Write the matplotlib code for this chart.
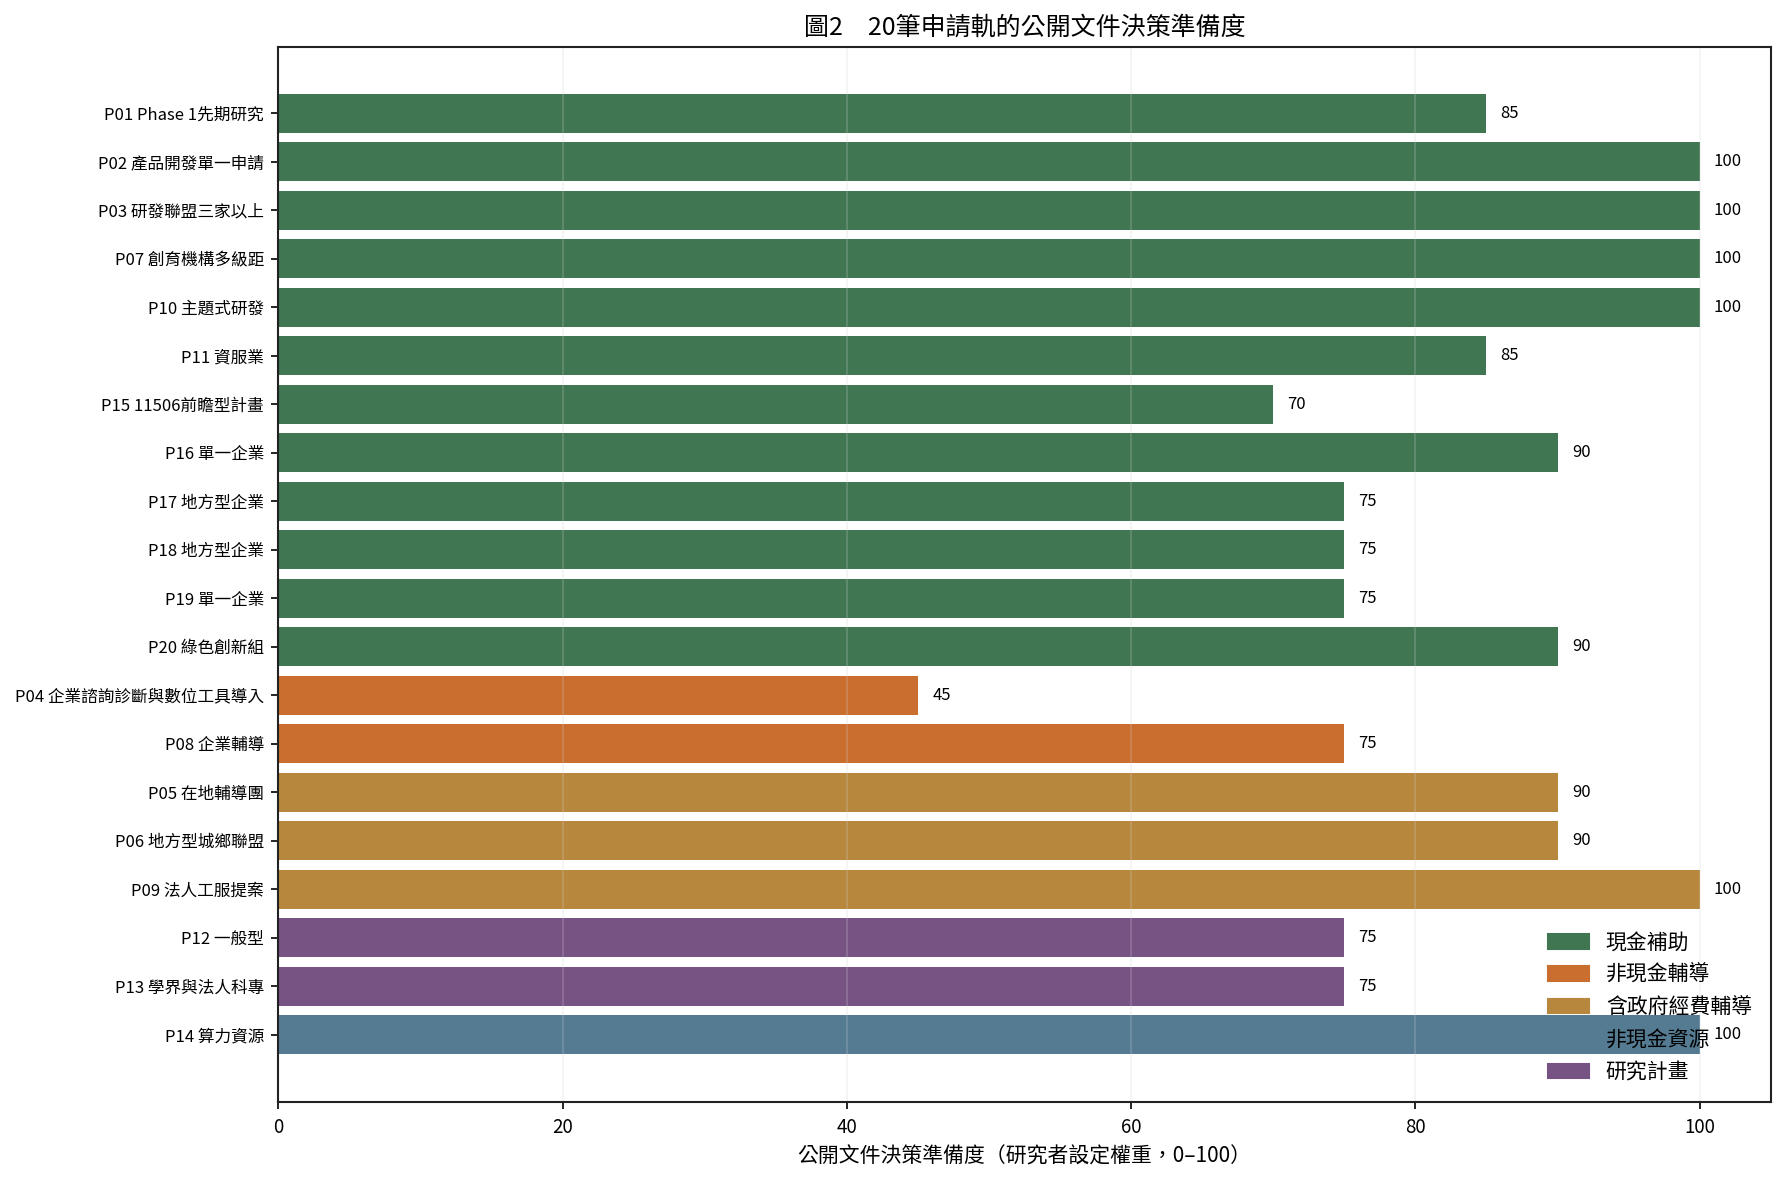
import matplotlib
matplotlib.use("Agg")
import matplotlib.pyplot as plt
from matplotlib.patches import Patch

plt.rcParams['font.family'] = ['Noto Sans CJK TC', 'DejaVu Sans']

# 資料（上から下の順）
labels = [
    "P01 Phase 1先期研究", "P02 產品開發單一申請", "P03 研發聯盟三家以上",
    "P07 創育機構多級距", "P10 主題式研發", "P11 資服業",
    "P15 11506前瞻型計畫", "P16 單一企業", "P17 地方型企業",
    "P18 地方型企業", "P19 單一企業", "P20 綠色創新組",
    "P04 企業諮詢診斷與數位工具導入", "P08 企業輔導",
    "P05 在地輔導團", "P06 地方型城鄉聯盟", "P09 法人工服提案",
    "P12 一般型", "P13 學界與法人科專", "P14 算力資源",
]
scores = [85, 100, 100, 100, 100, 85, 70, 90, 75, 75, 75, 90,
          45, 75, 90, 90, 100, 75, 75, 100]
groups = ["現金補助"] * 12 + ["非現金輔導"] * 2 + ["含政府經費輔導"] * 3 + \
         ["研究計畫"] * 2 + ["非現金資源"]

group_order = ["現金補助", "非現金輔導", "含政府經費輔導", "非現金資源", "研究計畫"]
group_colors = {
    "現金補助": "#407652",
    "非現金輔導": "#c96e2e",
    "含政府經費輔導": "#b8873e",
    "非現金資源": "#557b93",
    "研究計畫": "#775384",
}

fig, ax = plt.subplots(figsize=(11.9, 7.9), dpi=150)
fig.subplots_adjust(left=0.156, right=0.992, top=0.960, bottom=0.070)

ypos = list(range(len(labels)))
ax.barh(ypos, scores, height=0.8, color=[group_colors[g] for g in groups])

for y, v in zip(ypos, scores):
    ax.text(v + 1, y, str(v), va="center", ha="left", fontsize=8)

ax.set_yticks(ypos)
ax.set_yticklabels(labels, fontsize=8)
ax.set_ylim(len(labels) - 1 + 1.39, -1.36)
ax.set_xlim(0, 105)
ax.tick_params(axis="x", labelsize=9)
ax.grid(axis="x", color="lightgrey", alpha=0.25)

for s in ax.spines.values():
    s.set_color("#222222")
    s.set_linewidth(1.0)

ax.set_xlabel("公開文件決策準備度（研究者設定權重，0–100）", fontsize=10)
ax.set_title("圖2　20筆申請軌的公開文件決策準備度", fontsize=12)

handles = [Patch(color=group_colors[g], label=g) for g in group_order]
ax.legend(handles=handles, loc="lower right", frameon=False, fontsize=10)

fig.savefig("out.png", dpi=150)
